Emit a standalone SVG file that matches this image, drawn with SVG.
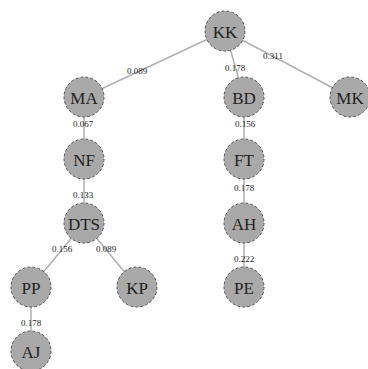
<svg xmlns="http://www.w3.org/2000/svg" width="368" height="369" viewBox="0 0 368 369">
<style>
.n circle{fill:#a9a9a9;stroke:#555;stroke-width:1;stroke-dasharray:3,2}
.n text{font-family:"Liberation Serif",serif;font-size:17px;fill:#222;text-anchor:middle;dominant-baseline:central}
.e line{stroke:#b0b0b0;stroke-width:1.5}
.l{font-family:"Liberation Serif",serif;font-size:9px;fill:#222;text-anchor:middle;dominant-baseline:central}
</style>
<rect width="368" height="369" fill="#fff"/>
<g id="edges" class="e">
<line x1="225" y1="31" x2="84" y2="97"/>
<line x1="225" y1="31" x2="244" y2="97"/>
<line x1="225" y1="31" x2="350" y2="97"/>
<line x1="84" y1="97" x2="84" y2="159"/>
<line x1="84" y1="159" x2="84" y2="223"/>
<line x1="84" y1="223" x2="31" y2="287"/>
<line x1="84" y1="223" x2="137" y2="287"/>
<line x1="31" y1="287" x2="31" y2="351"/>
<line x1="244" y1="97" x2="244" y2="159"/>
<line x1="244" y1="159" x2="244" y2="223"/>
<line x1="244" y1="223" x2="244" y2="287"/>
</g>
<g id="edge-labels">
<text class="l" x="137" y="71">0.089</text>
<text class="l" x="235" y="68">0.178</text>
<text class="l" x="273" y="56">0.311</text>
<text class="l" x="83" y="124">0.067</text>
<text class="l" x="245" y="124">0.156</text>
<text class="l" x="83" y="195">0.133</text>
<text class="l" x="244" y="188">0.178</text>
<text class="l" x="62" y="249">0.156</text>
<text class="l" x="106" y="249">0.089</text>
<text class="l" x="244" y="259">0.222</text>
<text class="l" x="31" y="323">0.178</text>
</g>
<g id="KK" class="n"><circle cx="225" cy="31" r="20"/><text x="225" y="32">KK</text></g>
<g id="MA" class="n"><circle cx="84" cy="97" r="20"/><text x="84" y="98">MA</text></g>
<g id="BD" class="n"><circle cx="244" cy="97" r="20"/><text x="244" y="98">BD</text></g>
<g id="MK" class="n"><circle cx="350" cy="97" r="20"/><text x="350" y="98">MK</text></g>
<g id="NF" class="n"><circle cx="84" cy="159" r="20"/><text x="84" y="160">NF</text></g>
<g id="FT" class="n"><circle cx="244" cy="159" r="20"/><text x="244" y="160">FT</text></g>
<g id="DTS" class="n"><circle cx="84" cy="223" r="20"/><text x="84" y="224">DTS</text></g>
<g id="AH" class="n"><circle cx="244" cy="223" r="20"/><text x="244" y="224">AH</text></g>
<g id="PP" class="n"><circle cx="31" cy="287" r="20"/><text x="31" y="288">PP</text></g>
<g id="KP" class="n"><circle cx="137" cy="287" r="20"/><text x="137" y="288">KP</text></g>
<g id="PE" class="n"><circle cx="244" cy="287" r="20"/><text x="244" y="288">PE</text></g>
<g id="AJ" class="n"><circle cx="31" cy="351" r="20"/><text x="31" y="352">AJ</text></g>
</svg>
